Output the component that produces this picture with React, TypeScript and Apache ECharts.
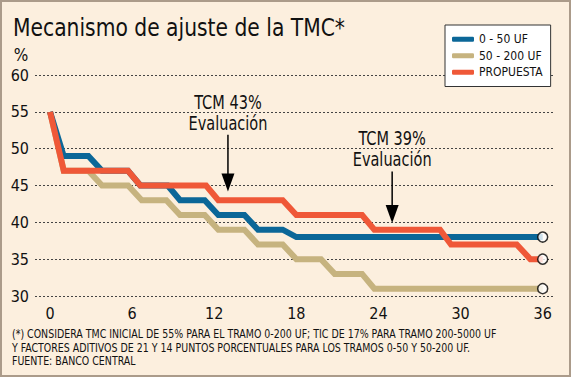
import React, { useEffect, useRef } from "react";
import * as echarts from "echarts";

const FONT = "'DejaVu Sans Condensed', 'Liberation Sans Narrow', 'DejaVu Sans', sans-serif";

const seriesNames = ["0 - 50 UF", "50 - 200 UF", "PROPUESTA"];
const seriesColors = ["#0b6798", "#c6b37f", "#ef5838"];

// months (x) and rate (%) for each tramo
const blueX = [0, 1, 2.8, 3.8, 5.7, 6.6, 8.6, 9.5, 11.3, 12.3, 14.2, 15.2, 17, 18, 36];
const blueY = [55, 49, 49, 47, 47, 45, 45, 43, 43, 41, 41, 39, 39, 38, 38];

const khakiX = [0, 1, 2.8, 3.8, 5.7, 6.7, 8.5, 9.5, 11.3, 12.3, 14.2, 15.2, 17, 18, 19.8, 20.8, 22.8, 23.7, 36];
const khakiY = [55, 47, 47, 45, 45, 43, 43, 41, 41, 39, 39, 37, 37, 35, 35, 33, 33, 31, 31];

const redX = [0, 1, 5.7, 6.6, 11.4, 12.3, 17, 18, 22.8, 23.7, 28.5, 29.3, 34.1, 35.1, 36];
const redY = [55, 47, 47, 45, 45, 43, 43, 41, 41, 39, 39, 37, 37, 35, 35];

const xTicks = [0, 6, 12, 18, 24, 30, 36];

// annotations: x (month), top of arrow shaft (%), arrow tip (%), text
const annX = [13, 25];
const annTop = [51.9, 46.9];
const annTip = [44.2, 39.9];
const annText = ["TCM 43%\nEvaluación", "TCM 39%\nEvaluación"];

const titleText = "Mecanismo de ajuste de la TMC*";
const footText =
  "(*) CONSIDERA TMC INICIAL DE 55% PARA EL TRAMO 0-200 UF; TIC DE 17% PARA TRAMO 200-5000 UF\nY FACTORES ADITIVOS DE 21 Y 14 PUNTOS PORCENTUALES PARA LOS TRAMOS 0-50 Y 50-200 UF.\nFUENTE: BANCO CENTRAL";

const pairs = (xs: number[], ys: number[]) => xs.map((x, i) => [x, ys[i]]);

export default function App() {
  const ref = useRef<HTMLDivElement>(null);
  useEffect(() => {
    if (!ref.current) return;
    const chart = echarts.init(ref.current, null, { renderer: "svg" });
    const lineSeries = (name: string, color: string, data: number[][], z: number) => ({
      name,
      type: "line",
      data,
      symbol: "none",
      z,
      lineStyle: { color, width: 6, join: "miter", cap: "butt" },
      itemStyle: { color },
    });
    const ends = [
      [blueX[blueX.length - 1], blueY[blueY.length - 1]],
      [khakiX[khakiX.length - 1], khakiY[khakiY.length - 1]],
      [redX[redX.length - 1], redY[redY.length - 1]],
    ];
    chart.setOption({
      animation: false,
      backgroundColor: "#fcefde",
      legend: {
        orient: "vertical",
        left: 445,
        top: 25,
        backgroundColor: "#ffffff",
        borderColor: "#333",
        borderWidth: 1,
        padding: [6, 8, 6, 7],
        itemGap: 0,
        itemWidth: 22,
        itemHeight: 5,
        icon: "roundRect",
        data: seriesNames,
        textStyle: { fontFamily: FONT, fontSize: 12, color: "#111", lineHeight: 16.5 },
      },
      grid: { left: 35, right: 16, top: 75, bottom: 81 },
      xAxis: {
        type: "value",
        min: -1.1,
        max: 36.9,
        axisLine: { show: false },
        axisTick: { show: false },
        splitLine: { show: false },
        axisLabel: {
          customValues: xTicks,
          margin: 9,
          fontFamily: FONT,
          fontSize: 16,
          color: "#111",
        },
      },
      yAxis: {
        type: "value",
        min: 30,
        max: 60,
        interval: 5,
        axisLine: { show: false },
        axisTick: { show: false },
        axisLabel: { margin: 6, fontFamily: FONT, fontSize: 16, color: "#111" },
        splitLine: { lineStyle: { color: "#444", width: 1, type: [2, 2] } },
      },
      series: [
        lineSeries(seriesNames[1], seriesColors[1], pairs(khakiX, khakiY), 2),
        lineSeries(seriesNames[0], seriesColors[0], pairs(blueX, blueY), 3),
        lineSeries(seriesNames[2], seriesColors[2], pairs(redX, redY), 4),
        {
          name: "fin",
          type: "scatter",
          data: ends,
          symbol: "circle",
          symbolSize: 10,
          z: 6,
          itemStyle: { color: "#ffffff", borderColor: "#000", borderWidth: 1.5 },
        },
      ],
    });

    const graphics: any[] = [
      {
        type: "rect",
        shape: { x: 1, y: 1, width: 569, height: 375 },
        style: { fill: "none", stroke: "#ab9b8a", lineWidth: 2 },
        silent: true,
        z: 100,
      },
      {
        type: "text",
        x: 13,
        y: 27,
        scaleX: 0.94,
        style: { text: titleText, fontFamily: FONT, fontSize: 24, fill: "#111", textAlign: "left", textVerticalAlign: "middle" },
      },
      {
        type: "text",
        x: 21,
        y: 55,
        style: { text: "%", fontFamily: FONT, fontSize: 17, fill: "#111", textAlign: "center", textVerticalAlign: "middle" },
      },
      {
        type: "text",
        x: 12,
        y: 328,
        scaleX: 0.875,
        style: { text: footText, fontFamily: FONT, fontSize: 12, lineHeight: 13.3, fill: "#111", textAlign: "left", textVerticalAlign: "top" },
      },
    ];
    annX.forEach((x, i) => {
      const top = chart.convertToPixel({ gridIndex: 0 }, [x, annTop[i]]) as number[];
      const tip = chart.convertToPixel({ gridIndex: 0 }, [x, annTip[i]]) as number[];
      graphics.push(
        {
          type: "line",
          shape: { x1: top[0], y1: top[1], x2: tip[0], y2: tip[1] - 16 },
          style: { stroke: "#000", lineWidth: 1.5 },
          z: 50,
        },
        {
          type: "polygon",
          shape: { points: [[tip[0] - 6.5, tip[1] - 18], [tip[0] + 6.5, tip[1] - 18], [tip[0], tip[1]]] },
          style: { fill: "#000" },
          z: 50,
        },
        {
          type: "text",
          x: top[0],
          y: top[1] - 1,
          scaleX: 0.85,
          style: {
            text: annText[i],
            fontFamily: FONT,
            fontSize: 19,
            lineHeight: 21,
            fill: "#111",
            textAlign: "center",
            textVerticalAlign: "bottom",
          },
          z: 50,
        }
      );
    });
    chart.setOption({ graphic: graphics });
    return () => chart.dispose();
  }, []);
  return <div ref={ref} style={{ position: "absolute", left: 0, top: 0, width: 571, height: 377 }} />;
}
